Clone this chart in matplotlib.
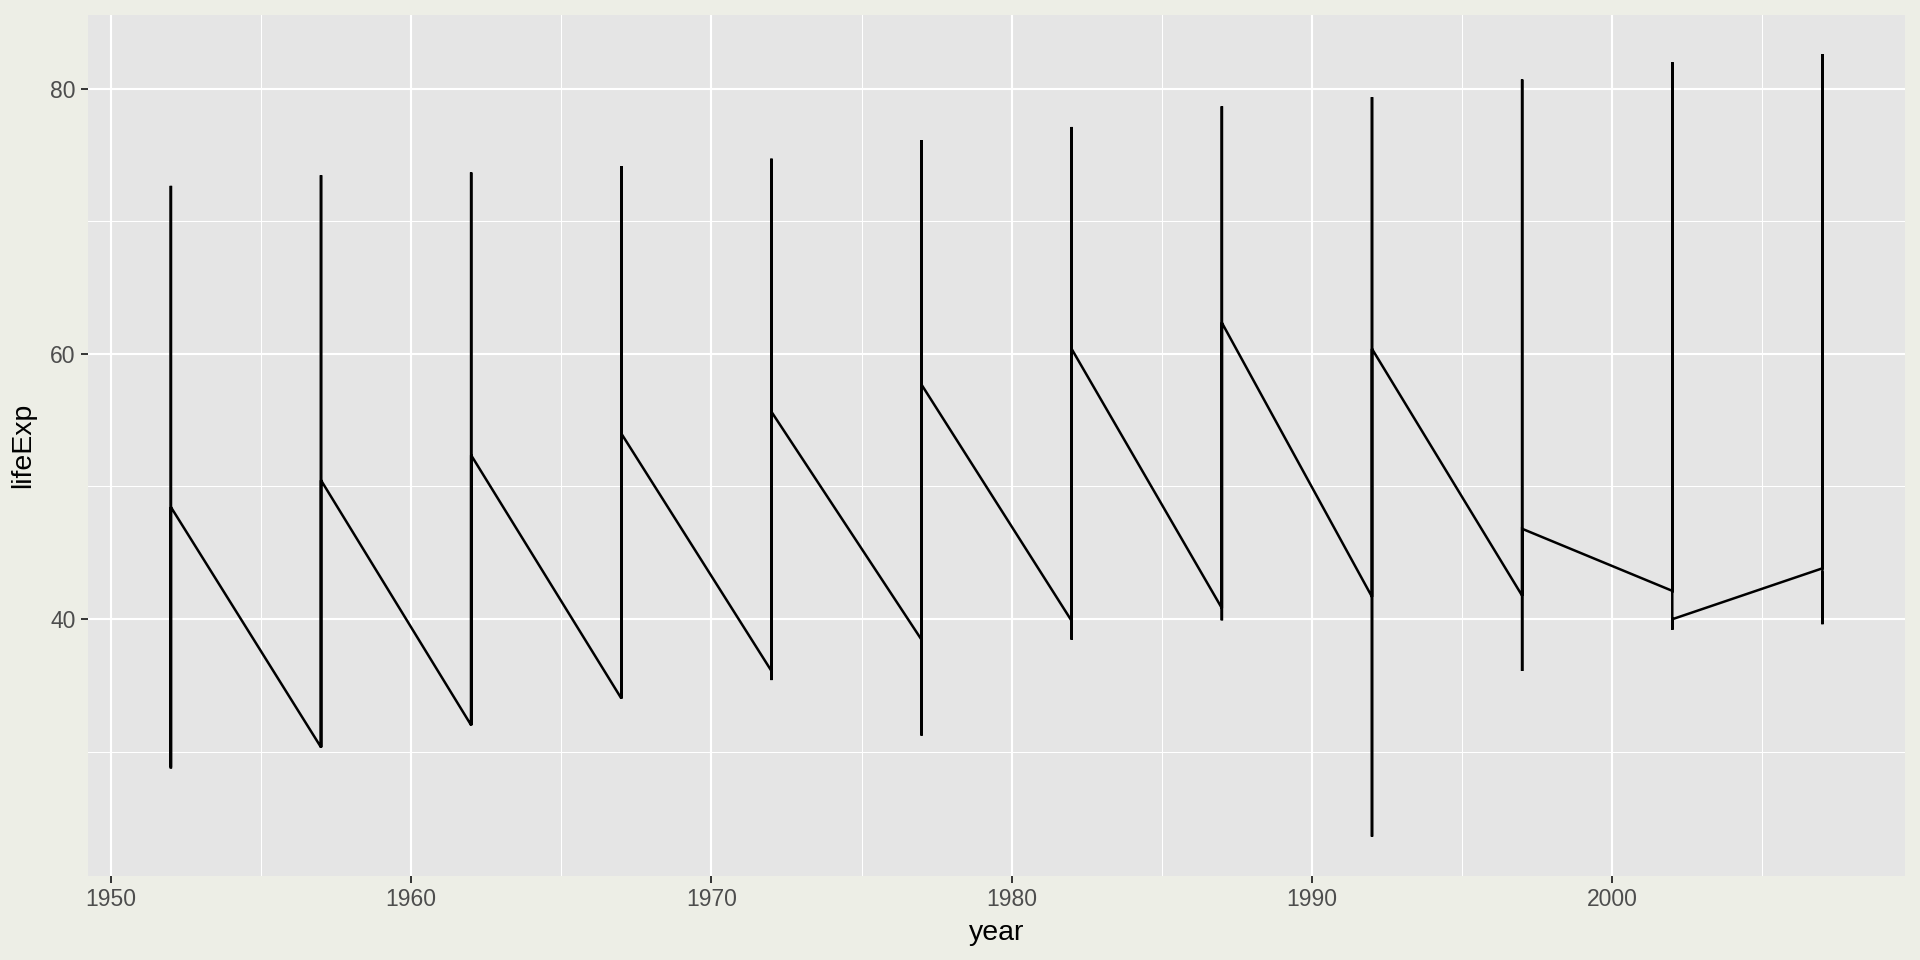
import matplotlib
matplotlib.use("Agg")
import matplotlib.pyplot as plt
from matplotlib.ticker import FixedLocator

plt.rcParams['font.family'] = ['Liberation Sans', 'DejaVu Sans']

years = [1952, 1957, 1962, 1967, 1972, 1977, 1982, 1987, 1992, 1997, 2002, 2007]
# life expectancy values read per year: first country, max, min, second-to-last, last country
first_vals = [28.801, 30.332, 31.997, 34.020, 36.088, 38.438, 39.854, 40.822, 41.674, 41.763, 42.129, 43.828]
max_vals = [72.670, 73.470, 73.680, 74.160, 74.720, 76.110, 77.110, 78.670, 79.360, 80.690, 82.000, 82.603]
min_vals = [28.801, 30.332, 31.997, 34.020, 35.400, 31.220, 38.445, 39.906, 23.599, 36.087, 39.193, 39.613]
prelast_vals = [42.038, 44.077, 46.023, 47.768, 50.107, 51.386, 51.821, 50.821, 46.100, 40.238, 39.193, 42.384]
last_vals = [48.451, 50.469, 52.358, 53.995, 55.635, 57.674, 60.363, 62.351, 60.377, 46.809, 39.989, 43.487]

xs, ys = [], []
for i, yr in enumerate(years):
    for v in (first_vals[i], max_vals[i], min_vals[i], prelast_vals[i], last_vals[i]):
        xs.append(yr)
        ys.append(v)

outer_bg = '#EDEEE6'
panel_bg = '#E5E5E5'

fig = plt.figure(figsize=(19.2, 9.6), dpi=100, facecolor=outer_bg)
ax = fig.add_axes([88.3/1920, (960-875.7)/960, (1905-88.3)/1920, (875.7-15)/960])
ax.set_facecolor(panel_bg)

ax.plot(xs, ys, color='black', linewidth=1.8, solid_joinstyle='miter', zorder=3)

ymin_d, ymax_d = min(min_vals), max(max_vals)
yr_pad = (ymax_d - ymin_d) * 0.05
ax.set_ylim(ymin_d - yr_pad, ymax_d + yr_pad)
xr_pad = (max(years) - min(years)) * 0.05
ax.set_xlim(min(years) - xr_pad, max(years) + xr_pad)

ax.xaxis.set_major_locator(FixedLocator([1950, 1960, 1970, 1980, 1990, 2000]))
ax.xaxis.set_minor_locator(FixedLocator([1955, 1965, 1975, 1985, 1995, 2005]))
ax.yaxis.set_major_locator(FixedLocator([40, 60, 80]))
ax.yaxis.set_minor_locator(FixedLocator([30, 50, 70]))

ax.grid(which='major', color='white', linewidth=1.5, zorder=0)
ax.grid(which='minor', color='white', linewidth=0.75, zorder=0)
ax.set_axisbelow(True)

for s in ax.spines.values():
    s.set_visible(False)

ax.tick_params(which='major', length=5, width=1.4, color='#333333',
               labelsize=16.5, labelcolor='#4D4D4D', pad=4)
ax.tick_params(which='minor', length=0)

ax.set_xlabel('year', fontsize=20.5, color='black', labelpad=6)
ax.set_ylabel('lifeExp', fontsize=20.5, color='black', labelpad=10)

fig.savefig('out.png', dpi=100, facecolor=outer_bg)
